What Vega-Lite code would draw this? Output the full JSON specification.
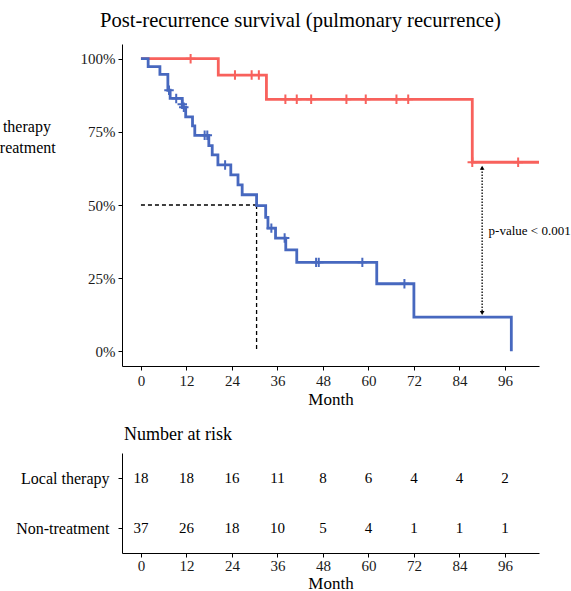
{
  "$schema": "https://vega.github.io/schema/vega-lite/v6.json",
  "padding": {"left": -62, "top": 11, "right": 0, "bottom": 0},
  "config": {
    "font": "Liberation Serif",
    "view": {"stroke": null},
    "axis": {"grid": false, "domainColor": "#000", "tickColor": "#000", "labelColor": "#1a1a1a", "labelFont": "Liberation Serif", "labelFontSize": 15, "titleFont": "Liberation Serif", "titleFontSize": 17, "titleFontWeight": "normal", "titleColor": "#000", "tickSize": 4, "labelPadding": 3, "domainWidth": 1, "tickWidth": 1},
    "title": {"font": "Liberation Serif", "fontWeight": "normal", "color": "#000"}
  },
  "datasets": {
    "km": [
      {"group": "Local therapy", "month": 0, "surv": 1.0},
      {"group": "Local therapy", "month": 20.4, "surv": 0.944},
      {"group": "Local therapy", "month": 33.1, "surv": 0.861},
      {"group": "Local therapy", "month": 87.4, "surv": 0.646},
      {"group": "Local therapy", "month": 105, "surv": 0.646},
      {"group": "Non-treatment", "month": 0, "surv": 1.0},
      {"group": "Non-treatment", "month": 1.9, "surv": 0.973},
      {"group": "Non-treatment", "month": 5.0, "surv": 0.946},
      {"group": "Non-treatment", "month": 7.1, "surv": 0.892},
      {"group": "Non-treatment", "month": 7.7, "surv": 0.864},
      {"group": "Non-treatment", "month": 10.9, "surv": 0.834},
      {"group": "Non-treatment", "month": 11.8, "surv": 0.801},
      {"group": "Non-treatment", "month": 13.6, "surv": 0.770},
      {"group": "Non-treatment", "month": 14.2, "surv": 0.738},
      {"group": "Non-treatment", "month": 17.9, "surv": 0.703},
      {"group": "Non-treatment", "month": 18.8, "surv": 0.671},
      {"group": "Non-treatment", "month": 20.3, "surv": 0.637},
      {"group": "Non-treatment", "month": 23.7, "surv": 0.603},
      {"group": "Non-treatment", "month": 25.6, "surv": 0.569},
      {"group": "Non-treatment", "month": 26.7, "surv": 0.535},
      {"group": "Non-treatment", "month": 30.5, "surv": 0.498},
      {"group": "Non-treatment", "month": 32.9, "surv": 0.458},
      {"group": "Non-treatment", "month": 33.5, "surv": 0.421},
      {"group": "Non-treatment", "month": 35.5, "surv": 0.387},
      {"group": "Non-treatment", "month": 38.2, "surv": 0.347},
      {"group": "Non-treatment", "month": 41.1, "surv": 0.304},
      {"group": "Non-treatment", "month": 62.2, "surv": 0.231},
      {"group": "Non-treatment", "month": 72.0, "surv": 0.117},
      {"group": "Non-treatment", "month": 97.7, "surv": 0.0}
    ],
    "cens": [
      {"group": "Local therapy", "month": 13.1, "surv": 1.0},
      {"group": "Local therapy", "month": 24.8, "surv": 0.944},
      {"group": "Local therapy", "month": 29.2, "surv": 0.944},
      {"group": "Local therapy", "month": 31.1, "surv": 0.944},
      {"group": "Local therapy", "month": 38.1, "surv": 0.861},
      {"group": "Local therapy", "month": 41.1, "surv": 0.861},
      {"group": "Local therapy", "month": 44.9, "surv": 0.861},
      {"group": "Local therapy", "month": 54.2, "surv": 0.861},
      {"group": "Local therapy", "month": 59.3, "surv": 0.861},
      {"group": "Local therapy", "month": 67.4, "surv": 0.861},
      {"group": "Local therapy", "month": 70.5, "surv": 0.861},
      {"group": "Local therapy", "month": 87.4, "surv": 0.646},
      {"group": "Local therapy", "month": 99.5, "surv": 0.646},
      {"group": "Non-treatment", "month": 7.4, "surv": 0.892},
      {"group": "Non-treatment", "month": 9.3, "surv": 0.864},
      {"group": "Non-treatment", "month": 10.9, "surv": 0.844},
      {"group": "Non-treatment", "month": 11.3, "surv": 0.834},
      {"group": "Non-treatment", "month": 16.8, "surv": 0.738},
      {"group": "Non-treatment", "month": 17.5, "surv": 0.738},
      {"group": "Non-treatment", "month": 22.2, "surv": 0.637},
      {"group": "Non-treatment", "month": 34.4, "surv": 0.421},
      {"group": "Non-treatment", "month": 37.9, "surv": 0.387},
      {"group": "Non-treatment", "month": 46.2, "surv": 0.304},
      {"group": "Non-treatment", "month": 46.9, "surv": 0.304},
      {"group": "Non-treatment", "month": 58.4, "surv": 0.304},
      {"group": "Non-treatment", "month": 69.5, "surv": 0.231}
    ],
    "med": [
      {"month": 0, "month2": 30.5, "surv": 0.5, "surv2": 0.5},
      {"month": 30.5, "month2": 30.5, "surv": 0.5, "surv2": 0.0}
    ],
    "arrow": [
      {"month": 90.0, "month2": 90.0, "surv": 0.625, "surv2": 0.135}
    ],
    "heads": [
      {"month": 90.0, "surv": 0.627, "end": "top"},
      {"month": 90.0, "surv": 0.131, "end": "bottom"}
    ],
    "pval": [
      {"month": 91.7, "surv": 0.412, "label": "p-value < 0.001"}
    ],
    "risk": [
      {"group": "Local therapy", "month": 0, "n": 18},
      {"group": "Local therapy", "month": 12, "n": 18},
      {"group": "Local therapy", "month": 24, "n": 16},
      {"group": "Local therapy", "month": 36, "n": 11},
      {"group": "Local therapy", "month": 48, "n": 8},
      {"group": "Local therapy", "month": 60, "n": 6},
      {"group": "Local therapy", "month": 72, "n": 4},
      {"group": "Local therapy", "month": 84, "n": 4},
      {"group": "Local therapy", "month": 96, "n": 2},
      {"group": "Non-treatment", "month": 0, "n": 37},
      {"group": "Non-treatment", "month": 12, "n": 26},
      {"group": "Non-treatment", "month": 24, "n": 18},
      {"group": "Non-treatment", "month": 36, "n": 10},
      {"group": "Non-treatment", "month": 48, "n": 5},
      {"group": "Non-treatment", "month": 60, "n": 4},
      {"group": "Non-treatment", "month": 72, "n": 1},
      {"group": "Non-treatment", "month": 84, "n": 1},
      {"group": "Non-treatment", "month": 96, "n": 1}
    ]
  },
  "spacing": 19,
  "resolve": {"scale": {"color": "independent", "x": "independent", "y": "independent"}, "legend": {"color": "independent"}},
  "vconcat": [
    {
      "width": 417,
      "height": 322,
      "title": {"text": "Post-recurrence survival (pulmonary recurrence)", "anchor": "start", "frame": "group", "dx": -22, "fontSize": 20.6, "offset": 12},
      "encoding": {
        "x": {"field": "month", "type": "quantitative", "scale": {"domain": [-5, 105], "nice": false, "zero": false}, "axis": {"values": [0, 12, 24, 36, 48, 60, 72, 84, 96], "title": "Month", "titlePadding": 3}},
        "y": {"field": "surv", "type": "quantitative", "scale": {"domain": [-0.05, 1.05], "nice": false, "zero": false}, "axis": {"values": [0, 0.25, 0.5, 0.75, 1], "format": ".0%", "title": null}}
      },
      "layer": [
        {
          "data": {"name": "med"},
          "mark": {"type": "rule", "color": "#000", "strokeDash": [4, 3], "strokeWidth": 1.3},
          "encoding": {"x2": {"field": "month2"}, "y2": {"field": "surv2"}}
        },
        {
          "data": {"name": "km"},
          "transform": [{"filter": "datum.group === 'Local therapy'"}],
          "mark": {"type": "line", "interpolate": "step-after", "strokeWidth": 2.8},
          "encoding": {
            "color": {"field": "group", "type": "nominal", "scale": {"domain": ["Local therapy", "Non-treatment"], "range": ["#F8615C", "#4768BF"]},
              "legend": {"orient": "none", "legendX": -183.5, "legendY": 74.5, "title": null, "labelFont": "Liberation Serif", "labelFontSize": 16, "labelColor": "#000", "symbolType": "stroke", "symbolStrokeWidth": 2.8, "symbolSize": 150, "labelOffset": 8, "rowPadding": 5}}
          }
        },
        {
          "data": {"name": "km"},
          "transform": [{"filter": "datum.group === 'Non-treatment'"}],
          "mark": {"type": "line", "interpolate": "step-after", "strokeWidth": 2.8},
          "encoding": {
            "color": {"field": "group", "type": "nominal", "scale": {"domain": ["Local therapy", "Non-treatment"], "range": ["#F8615C", "#4768BF"]}}
          }
        },
        {
          "data": {"name": "cens"},
          "mark": {"type": "point", "shape": "M-1,0L1,0M0,-1L0,1", "filled": false, "strokeWidth": 2, "size": 90, "opacity": 1},
          "encoding": {
            "color": {"field": "group", "type": "nominal", "scale": {"domain": ["Local therapy", "Non-treatment"], "range": ["#F8615C", "#4768BF"]}}
          }
        },
        {
          "data": {"name": "arrow"},
          "mark": {"type": "rule", "color": "#000", "strokeDash": [1.5, 1.5], "strokeWidth": 1.3},
          "encoding": {"x2": {"field": "month2"}, "y2": {"field": "surv2"}}
        },
        {
          "data": {"name": "heads"},
          "mark": {"type": "point", "filled": true, "color": "#000", "size": 22, "opacity": 1},
          "encoding": {
            "shape": {"field": "end", "type": "nominal", "scale": {"domain": ["top", "bottom"], "range": ["triangle-up", "triangle-down"]}, "legend": null}
          }
        },
        {
          "data": {"name": "pval"},
          "mark": {"type": "text", "align": "left", "baseline": "middle", "font": "Liberation Serif", "fontSize": 13, "color": "#000"},
          "encoding": {"text": {"field": "label"}}
        }
      ]
    },
    {
      "width": 417,
      "height": 100,
      "title": {"text": "Number at risk", "anchor": "start", "frame": "group", "dx": 2, "fontSize": 18, "offset": 9},
      "data": {"name": "risk"},
      "mark": {"type": "text", "font": "Liberation Serif", "fontSize": 15, "color": "#000"},
      "encoding": {
        "x": {"field": "month", "type": "quantitative", "scale": {"domain": [-5, 105], "nice": false, "zero": false}, "axis": {"values": [0, 12, 24, 36, 48, 60, 72, 84, 96], "title": "Month", "titlePadding": 2, "labelPadding": 1}},
        "y": {"field": "group", "type": "nominal", "scale": {"domain": ["Local therapy", "Non-treatment"]}, "axis": {"title": null, "labelColor": "#000", "labelFontSize": 16, "labelPadding": 9}},
        "text": {"field": "n"}
      }
    }
  ]
}
